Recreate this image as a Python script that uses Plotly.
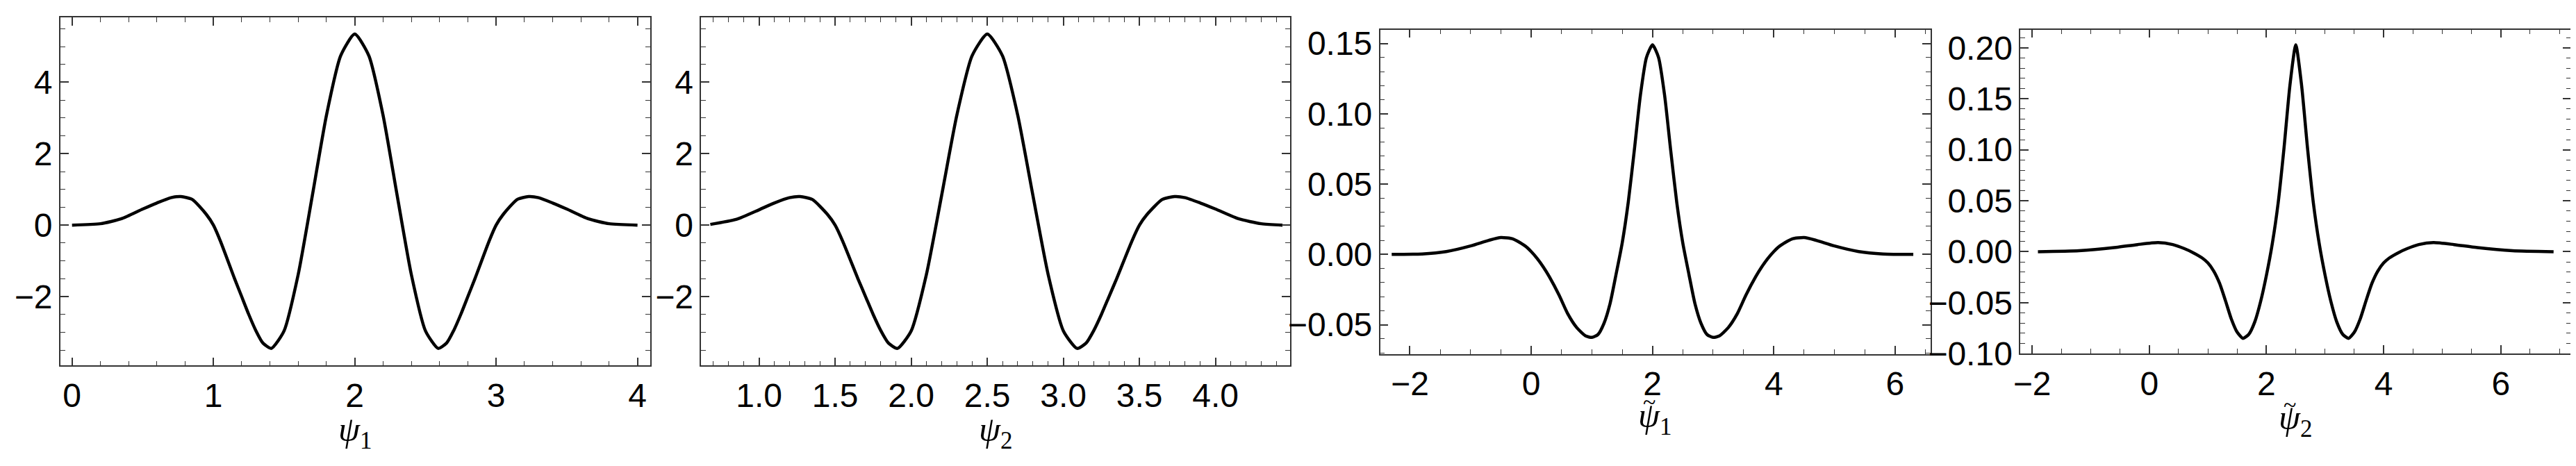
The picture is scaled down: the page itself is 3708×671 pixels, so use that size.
import plotly.graph_objects as go

W, H = 3708, 671

# Panel 1: psi_1
p1_x = [0.0, 0.2, 0.35, 0.5, 0.6, 0.7, 0.77, 0.85, 0.95, 1.0, 1.05, 1.15, 1.2, 1.25, 1.3, 1.35, 1.41,
        1.5, 1.6, 1.7, 1.8, 1.9, 2.0, 2.1, 2.2, 2.3, 2.4, 2.5, 2.59, 2.65, 2.7, 2.75, 2.8, 2.85, 2.95,
        3.0, 3.05, 3.15, 3.23, 3.3, 3.4, 3.5, 3.65, 3.8, 4.0]
p1_y = [0.0, 0.04, 0.18, 0.45, 0.62, 0.77, 0.8, 0.72, 0.3, 0.0, -0.45, -1.5, -2.0, -2.5, -2.95, -3.3, -3.45,
        -2.96, -1.38, 0.83, 3.08, 4.74, 5.35, 4.74, 3.08, 0.83, -1.38, -2.96, -3.45, -3.3, -2.95, -2.5, -2.0, -1.5, -0.45,
        0.0, 0.3, 0.72, 0.8, 0.77, 0.62, 0.45, 0.18, 0.04, 0.0]

# Panel 2: psi_2
p2_x = [0.68, 0.85, 1.0, 1.1, 1.2, 1.27, 1.35, 1.45, 1.5, 1.55, 1.65, 1.7, 1.75, 1.8, 1.85, 1.91,
        2.0, 2.1, 2.2, 2.3, 2.4, 2.5, 2.6, 2.7, 2.8, 2.9, 3.0, 3.09, 3.15, 3.2, 3.25, 3.3, 3.35, 3.45,
        3.5, 3.55, 3.65, 3.73, 3.8, 3.9, 4.0, 4.15, 4.3, 4.44]
p2_y = [0.02, 0.16, 0.43, 0.62, 0.77, 0.8, 0.72, 0.3, 0.0, -0.45, -1.5, -2.0, -2.5, -2.95, -3.3, -3.45,
        -2.96, -1.38, 0.83, 3.08, 4.74, 5.35, 4.74, 3.08, 0.83, -1.38, -2.96, -3.45, -3.3, -2.95, -2.5, -2.0, -1.5, -0.45,
        0.0, 0.3, 0.72, 0.8, 0.77, 0.62, 0.45, 0.18, 0.04, 0.0]

# Panel 3: psi_1 tilde
p3_x = [-2.3, -1.8, -1.4, -1.0, -0.7, -0.5, -0.3, -0.1, 0.0, 0.1, 0.2, 0.3, 0.46, 0.6, 0.75, 0.9, 1.0,
        1.1, 1.2, 1.3, 1.4, 1.5, 1.6, 1.7, 1.8, 1.9, 2.0, 2.1, 2.2, 2.3, 2.4, 2.5, 2.6, 2.7, 2.8, 2.9, 3.0,
        3.1, 3.25, 3.4, 3.54, 3.7, 3.8, 3.9, 4.0, 4.1, 4.3, 4.5, 4.7, 5.0, 5.4, 5.8, 6.3]
p3_y = [0.0, 0.0003, 0.002, 0.006, 0.010, 0.012, 0.011, 0.006, 0.002, -0.003, -0.009, -0.016, -0.029, -0.042, -0.052, -0.058, -0.059,
        -0.057, -0.049, -0.035, -0.014, 0.008, 0.037, 0.074, 0.113, 0.140, 0.149, 0.140, 0.113, 0.074, 0.037, 0.008, -0.014, -0.035, -0.049, -0.057, -0.059,
        -0.058, -0.052, -0.042, -0.029, -0.016, -0.009, -0.003, 0.002, 0.006, 0.011, 0.012, 0.010, 0.006, 0.002, 0.0003, 0.0]

# Panel 4: psi_2 tilde
p4_x = [-1.9, -1.2, -0.6, -0.2, 0.15, 0.4, 0.6, 0.75, 0.9, 1.0, 1.1, 1.2, 1.3, 1.4, 1.5, 1.6,
        1.7, 1.8, 1.9, 2.0, 2.1, 2.2, 2.3, 2.4, 2.5, 2.6, 2.7, 2.8, 2.9, 3.0, 3.1, 3.2, 3.3, 3.4,
        3.5, 3.6, 3.7, 3.8, 3.9, 4.0, 4.1, 4.25, 4.4, 4.6, 4.85, 5.2, 5.6, 6.2, 6.9]
p4_y = [0.0, 0.001, 0.004, 0.007, 0.009, 0.007, 0.003, -0.001, -0.006, -0.011, -0.019, -0.031, -0.048, -0.066, -0.079, -0.085,
        -0.081, -0.069, -0.049, -0.023, 0.008, 0.048, 0.102, 0.163, 0.203, 0.163, 0.102, 0.048, 0.008, -0.023, -0.049, -0.069, -0.081, -0.085,
        -0.079, -0.066, -0.048, -0.031, -0.019, -0.011, -0.006, -0.001, 0.003, 0.007, 0.009, 0.007, 0.004, 0.001, 0.0]

panels = [
    dict(x=p1_x, y=p1_y, xr=[-0.083, 4.088], yr=[-3.93, 5.81], xd=(69, 920), yd=(13, 539),
         xt=1, xm=0.2, yt=2, ym=0.5, xf=None, yf=None, sub="1", tilde=False, ly=640),
    dict(x=p2_x, y=p2_y, xr=[0.62, 4.49], yr=[-3.93, 5.81], xd=(994, 1844), yd=(13, 539),
         xt=0.5, xm=0.1, yt=2, ym=0.5, xf=".1f", yf=None, sub="2", tilde=False, ly=640),
    dict(x=p3_x, y=p3_y, xr=[-2.49, 6.58], yr=[-0.071, 0.1599], xd=(1974, 2768), yd=(31, 522),
         xt=2, xm=0.5, yt=0.05, ym=0.01, xf=None, yf=".2f", sub="1", tilde=True, ly=618),
    dict(x=p4_x, y=p4_y, xr=[-2.2, 7.2], yr=[-0.10, 0.218], xd=(2898, 3693), yd=(31, 521),
         xt=2, xm=0.5, yt=0.05, ym=0.01, xf=None, yf=".2f", sub="2", tilde=True, ly=622),
]

fig = go.Figure()
tickfont = dict(family="Liberation Sans Narrow, Liberation Sans, sans-serif", size=48, color="black")
serif = "Liberation Serif, DejaVu Serif, serif"
annotations = []
for i, p in enumerate(panels, start=1):
    xa = "x" if i == 1 else f"x{i}"
    ya = "y" if i == 1 else f"y{i}"
    fig.add_trace(go.Scatter(x=p["x"], y=p["y"], mode="lines", line=dict(color="black", width=4.5, shape="spline", smoothing=0.6),
                             xaxis=xa, yaxis=ya, showlegend=False, hoverinfo="skip"))
    common = dict(showgrid=False, zeroline=False, showline=True, linecolor="#333", linewidth=1.5, mirror="ticks",
                  ticks="inside", ticklen=12, tickcolor="#333", tickwidth=1.5, tickfont=tickfont)
    xkey = "xaxis" if i == 1 else f"xaxis{i}"
    ykey = "yaxis" if i == 1 else f"yaxis{i}"
    fig.layout[xkey] = dict(common, domain=[p["xd"][0] / W, p["xd"][1] / W], range=p["xr"], anchor=ya,
                            dtick=p["xt"], tick0=0, tickformat=p["xf"],
                            minor=dict(dtick=p["xm"], ticks="inside", ticklen=7, tickcolor="#333", tickwidth=1.2))
    fig.layout[ykey] = dict(common, domain=[1 - p["yd"][1] / H, 1 - p["yd"][0] / H], range=p["yr"], anchor=xa,
                            dtick=p["yt"], tick0=0, tickformat=p["yf"],
                            minor=dict(dtick=p["ym"], ticks="inside", ticklen=7, tickcolor="#333", tickwidth=1.2))
    cx = (p["xd"][0] + p["xd"][1]) / 2 / W
    annotations.append(dict(text=f"<i>ψ</i><sub>{p['sub']}</sub>", xref="paper", yref="paper", x=cx,
                            y=1 - p["ly"] / H, showarrow=False, xanchor="center", yanchor="middle",
                            font=dict(family=serif, size=50, color="black")))
    if p["tilde"]:
        annotations.append(dict(text="~", xref="paper", yref="paper", x=cx - 9 / W,
                                y=1 - (p["ly"] - 24) / H, showarrow=False, xanchor="center", yanchor="middle",
                                font=dict(family=serif, size=34, color="black")))

fig.update_layout(width=W, height=H, margin=dict(l=0, r=0, t=0, b=0), paper_bgcolor="white", plot_bgcolor="white",
                  annotations=annotations)
fig.write_html("out.html")
